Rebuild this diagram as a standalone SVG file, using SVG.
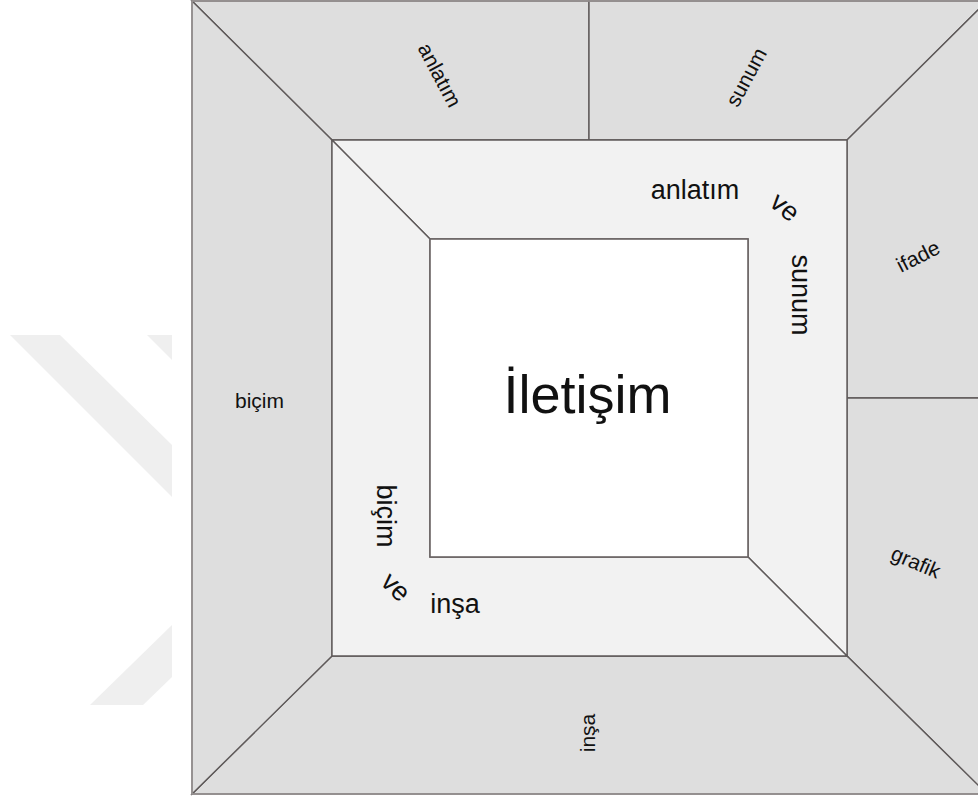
<svg xmlns="http://www.w3.org/2000/svg" width="978" height="798" viewBox="0 0 978 798">
<style>
  .outer { fill: #dedede; stroke: #5f5a5a; stroke-width: 1.4; stroke-linejoin: miter; }
  .mid { fill: #f2f2f2; stroke: #5f5a5a; stroke-width: 1.4; }
  .core { fill: #ffffff; stroke: #6b6565; stroke-width: 1.6; }
  .wm { fill: #efefef; stroke: none; }
  text { font-family: "Liberation Sans", Arial, sans-serif; fill: #111111; }
  .lo { font-size: 21px; }
  .li { font-size: 27px; }
  .lc { font-size: 54px; }
  .c { text-anchor: middle; dominant-baseline: central; }
</style>
<rect x="0" y="0" width="978" height="798" fill="#ffffff"/>
<g id="watermark">
  <polygon class="wm" points="10,335 60,335 172,445 172,497"/>
  <polygon class="wm" points="147,335 172,335 172,360"/>
  <polygon class="wm" points="90,705 143,705 172,677 172,625"/>
</g>
<g id="outer-anlatim">
  <polygon class="outer" points="192,1 589,1 589,140 332,140"/>
  <text class="lo c" transform="translate(440,75) rotate(62)">anlatım</text>
</g>
<g id="outer-sunum">
  <polygon class="outer" points="589,1 987,1 847,140 589,140"/>
  <text class="lo c" transform="translate(746,77) rotate(-62)">sunum</text>
</g>
<g id="outer-ifade">
  <polygon class="outer" points="987,1 987,398 847,398 847,140"/>
  <text class="lo c" transform="translate(918,256) rotate(-27)">ifade</text>
</g>
<g id="outer-grafik">
  <polygon class="outer" points="847,398 987,398 987,794 847,656"/>
  <text class="lo c" transform="translate(916,562) rotate(23)">grafik</text>
</g>
<g id="outer-insa">
  <polygon class="outer" points="192,794 332,656 847,656 987,794"/>
  <text class="lo c" transform="translate(587,733) rotate(-90)">inşa</text>
</g>
<g id="outer-bicim">
  <polygon class="outer" points="192,1 332,140 332,656 192,794"/>
  <text class="lo" x="259.5" y="408" text-anchor="middle">biçim</text>
</g>
<g id="outer-frame">
  <rect x="192" y="1" width="795" height="793" fill="none" stroke="#9a9595" stroke-width="1.6"/>
</g>
<g id="mid-anlatim-sunum">
  <polygon class="mid" points="332,140 847,140 847,656 748,557 748,239 430,239"/>
  <text class="li" x="695" y="199" text-anchor="middle">anlatım</text>
  <text class="li c" transform="translate(785,207) rotate(40)">ve</text>
  <text class="li c" transform="translate(801,295) rotate(90)">sunum</text>
</g>
<g id="mid-bicim-insa">
  <polygon class="mid" points="332,140 430,239 430,557 748,557 847,656 332,656"/>
  <text class="li c" transform="translate(386,516) rotate(90)">biçim</text>
  <text class="li c" transform="translate(396,587) rotate(45)">ve</text>
  <text class="li" x="455" y="613" text-anchor="middle">inşa</text>
</g>
<g id="iletisim">
  <rect class="core" x="430" y="239" width="318" height="318"/>
  <text class="lc" x="587.5" y="413" text-anchor="middle">İletişim</text>
</g>
<g id="connectors"></g>
</svg>
